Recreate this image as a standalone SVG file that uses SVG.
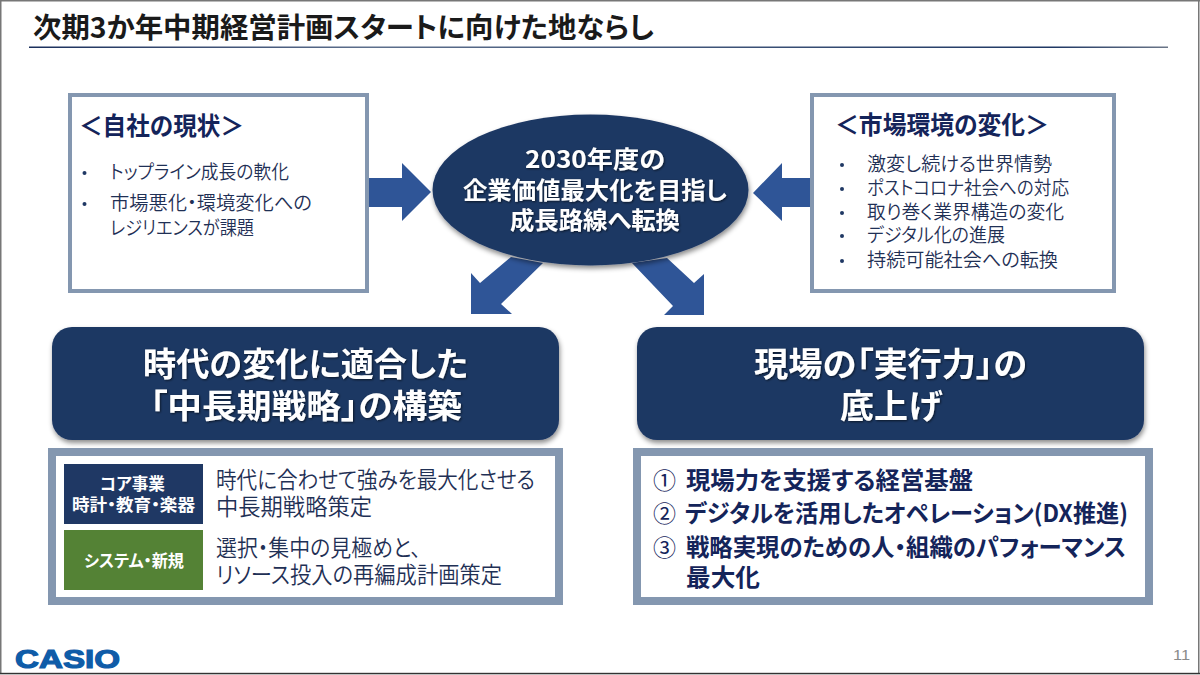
<svg xmlns="http://www.w3.org/2000/svg" width="1200" height="675" viewBox="0 0 1200 675">
<defs>
<linearGradient id="rule" x1="0" y1="0" x2="1" y2="0"><stop offset="0" stop-color="#1a2f5c"/><stop offset="0.3" stop-color="#5d6f8c"/><stop offset="0.9" stop-color="#1f3864"/><stop offset="1" stop-color="#6b7688"/></linearGradient>
<filter id="sh" x="-5%" y="-5%" width="110%" height="115%"><feDropShadow dx="1" dy="3" stdDeviation="2.5" flood-color="#000" flood-opacity="0.45"/></filter>
<filter id="ts" x="-5%" y="-20%" width="110%" height="140%"><feDropShadow dx="1" dy="1" stdDeviation="1" flood-color="#000" flood-opacity="0.6"/></filter>
</defs>
<style>
text{font-family:"Noto Sans CJK JP","Noto Sans",sans-serif;font-feature-settings:"palt";}
.frame{fill:#fff;stroke:#8497b0;}
.body{font-size:19px;fill:#1f3055;font-weight:350;}
.head{font-size:25px;font-weight:700;fill:#14245a;}
.dot{fill:#1f3864;}
.big{font-size:33px;font-weight:700;fill:#fff;}
.mid{font-size:24px;font-weight:700;fill:#fff;}
.lab{font-size:16.5px;font-weight:700;fill:#fff;}
.desc{font-size:23px;fill:#1f3055;font-weight:350;}
.list{font-size:24px;font-weight:700;fill:#14245a;}
.num{font-size:23px;fill:#14245a;}
.arrow{fill:#2f5597;}
.pill{fill:#1f3864;filter:url(#sh);}
</style>
<rect width="1200" height="675" fill="#fff"/>
<g id="page-edge" fill="#777">
<rect x="0" y="0" width="1200" height="1.5"/>
<rect x="0" y="0" width="1.5" height="674"/>
<rect x="1198" y="0" width="1.5" height="674"/>
<rect x="0" y="672.8" width="1200" height="1.5" fill="#333"/>
</g>
<g id="title">
<text x="33" y="38" font-size="28.5" font-weight="700" fill="#1a1a1a" textLength="621" lengthAdjust="spacingAndGlyphs">次期3か年中期経営計画スタートに向けた地ならし</text>
<rect x="29" y="46.5" width="1139" height="1.5" fill="url(#rule)"/>
</g>
<g id="connectors">
<polygon class="arrow" points="369,178 402,178 402,163 431,192 402,221 402,207 369,207"/>
<polygon class="arrow" points="810,178 782,178 782,163 753,193 782,221 782,207 810,207"/>
<polygon class="arrow" points="511,257 543,263 501,304 512,314 471,314 471,273 480,283"/>
<polygon class="arrow" points="632,263 667,258 694,283 704,274 704,315 664,315 673,306"/>
</g>
<g id="node-company">
<rect class="frame" x="70" y="95" width="297" height="196" stroke-width="4"/>
<text class="head" x="79" y="135" textLength="165" lengthAdjust="spacingAndGlyphs">＜自社の現状＞</text>
<circle class="dot" cx="84.5" cy="173" r="2"/>
<text class="body" x="110" y="179" textLength="179" lengthAdjust="spacingAndGlyphs">トップライン成長の軟化</text>
<circle class="dot" cx="84.5" cy="204" r="2"/>
<text class="body" x="110" y="210" textLength="202" lengthAdjust="spacingAndGlyphs">市場悪化・環境変化への</text>
<text class="body" x="110" y="235" textLength="144" lengthAdjust="spacingAndGlyphs">レジリエンスが課題</text>
</g>
<g id="node-market">
<rect class="frame" x="812" y="95" width="302" height="196" stroke-width="4"/>
<text class="head" x="835" y="134" textLength="214" lengthAdjust="spacingAndGlyphs">＜市場環境の変化＞</text>
<circle class="dot" cx="842" cy="165" r="2"/>
<text class="body" x="867" y="171" textLength="185" lengthAdjust="spacingAndGlyphs">激変し続ける世界情勢</text>
<circle class="dot" cx="842" cy="189" r="2"/>
<text class="body" x="867" y="195" textLength="202" lengthAdjust="spacingAndGlyphs">ポストコロナ社会への対応</text>
<circle class="dot" cx="842" cy="213" r="2"/>
<text class="body" x="867" y="219" textLength="197" lengthAdjust="spacingAndGlyphs">取り巻く業界構造の変化</text>
<circle class="dot" cx="842" cy="236" r="2"/>
<text class="body" x="867" y="242" textLength="138" lengthAdjust="spacingAndGlyphs">デジタル化の進展</text>
<circle class="dot" cx="842" cy="261" r="2"/>
<text class="body" x="867" y="267" textLength="191" lengthAdjust="spacingAndGlyphs">持続可能社会への転換</text>
</g>
<g id="node-goal">
<ellipse class="pill" cx="590.5" cy="190" rx="158" ry="75.5"/>
<g filter="url(#ts)">
<text class="mid" x="525" y="168" textLength="140" lengthAdjust="spacingAndGlyphs">2030年度の</text>
<text class="mid" x="463" y="199" textLength="264" lengthAdjust="spacingAndGlyphs">企業価値最大化を目指し</text>
<text class="mid" x="510" y="229" textLength="170" lengthAdjust="spacingAndGlyphs">成長路線へ転換</text>
</g>
</g>
<g id="node-strategy">
<rect class="pill" x="52" y="327" width="507" height="113" rx="20"/>
<g filter="url(#ts)">
<text class="big" x="143" y="376" textLength="325" lengthAdjust="spacingAndGlyphs">時代の変化に適合した</text>
<text class="big" x="150" y="418" textLength="312" lengthAdjust="spacingAndGlyphs">「中長期戦略」の構築</text>
</g>
</g>
<g id="node-execution">
<rect class="pill" x="637" y="327" width="507" height="113" rx="20"/>
<g filter="url(#ts)">
<text class="big" x="754" y="376" textLength="273" lengthAdjust="spacingAndGlyphs">現場の「実行力」の</text>
<text class="big" x="840" y="418" textLength="102" lengthAdjust="spacingAndGlyphs">底上げ</text>
</g>
</g>
<g id="node-strategy-detail">
<rect class="frame" x="52" y="452" width="507" height="149" stroke-width="8"/>
<rect x="64" y="464" width="139" height="60" fill="#1f3864"/>
<text class="lab" x="100" y="490" textLength="65" lengthAdjust="spacingAndGlyphs">コア事業</text>
<text class="lab" x="72" y="511" textLength="123" lengthAdjust="spacingAndGlyphs">時計・教育・楽器</text>
<rect x="64" y="530" width="139" height="60" fill="#548235"/>
<text class="lab" x="84" y="567" textLength="100" lengthAdjust="spacingAndGlyphs">システム・新規</text>
<text class="desc" x="216" y="488" textLength="319" lengthAdjust="spacingAndGlyphs">時代に合わせて強みを最大化させる</text>
<text class="desc" x="216" y="515" textLength="156" lengthAdjust="spacingAndGlyphs">中長期戦略策定</text>
<text class="desc" x="216" y="556" textLength="205" lengthAdjust="spacingAndGlyphs">選択・集中の見極めと、</text>
<text class="desc" x="216" y="583" textLength="286" lengthAdjust="spacingAndGlyphs">リソース投入の再編成計画策定</text>
</g>
<g id="node-execution-detail">
<rect class="frame" x="637" y="452" width="512" height="149" stroke-width="8"/>
<text class="num" x="653" y="489">①</text>
<text class="list" x="686" y="489" textLength="287" lengthAdjust="spacingAndGlyphs">現場力を支援する経営基盤</text>
<text class="num" x="653" y="522">②</text>
<text class="list" x="685" y="522" textLength="443" lengthAdjust="spacingAndGlyphs">デジタルを活用したオペレーション(DX推進)</text>
<text class="num" x="653" y="556">③</text>
<text class="list" x="686" y="556" textLength="440" lengthAdjust="spacingAndGlyphs">戦略実現のための人・組織のパフォーマンス</text>
<text class="list" x="686" y="586" textLength="74" lengthAdjust="spacingAndGlyphs">最大化</text>
</g>
<g id="footer">
<text x="15" y="668" font-size="26.5" font-weight="700" fill="#0f5ca8" stroke="#0f5ca8" stroke-width="1.2" style="font-family:'Liberation Sans',sans-serif" textLength="105" lengthAdjust="spacingAndGlyphs">CASIO</text>
<text x="1173" y="660" font-size="14" fill="#8a8a8a" style="font-family:'Liberation Sans',sans-serif" textLength="17" lengthAdjust="spacingAndGlyphs">11</text>
</g>
</svg>
